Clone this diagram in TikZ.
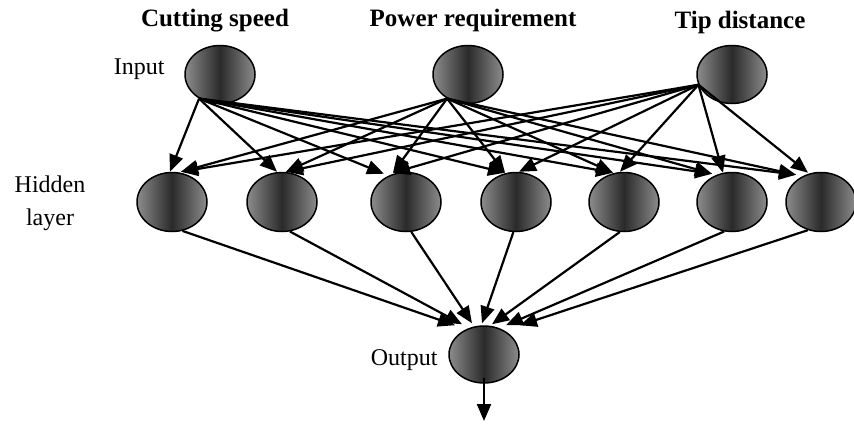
\documentclass[tikz,border=0pt]{standalone}
\usepackage{fontspec}
\setmainfont{Liberation Serif}
\usetikzlibrary{arrows.meta,calc,shapes.geometric}
\definecolor{edgegray}{HTML}{8C8C8C}
\definecolor{coregray}{HTML}{2A2A2A}
\tikzset{
  neuron/.style={ellipse, draw=black, line width=1.5pt, minimum width=70pt,
    minimum height=58pt, inner sep=0pt,
    left color=edgegray, right color=edgegray, middle color=coregray},
  conn/.style={line width=2.2pt, -{Triangle[length=17pt,width=14pt]}},
  title/.style={font=\fontsize{25}{30}\selectfont\bfseries, anchor=base},
  lbl/.style={font=\fontsize{24}{33}\selectfont, align=center},
}
\begin{document}
\begin{tikzpicture}[x=1pt,y=-1pt]
\useasboundingbox (0,0) rectangle (854,423);
% titles
\node[title] (t1) at (215,27) {Cutting speed};
\node[title] (t2) at (473,27) {Power requirement};
\node[title] (t3) at (740,28) {Tip distance};
% side labels
\node[lbl, anchor=base east] (lin) at (168,74) {Input};
\node[lbl, anchor=base] (lh1) at (50,192) {Hidden};
\node[lbl, anchor=base] (lh2) at (50,225) {layer};
\node[lbl, anchor=base east] (lout) at (441,365) {Output};
% input layer
\node[neuron] (i1) at (220,74.5) {};
\node[neuron] (i2) at (468,74.5) {};
\node[neuron] (i3) at (732,74.5) {};
% hidden layer
\foreach \n/\x in {1/172,2/282,3/406,4/516,5/624,6/732,7/821}
  \node[neuron, minimum height=59pt] (h\n) at (\x,202) {};
% output
\node[neuron, minimum height=57pt] (o) at (484,354.5) {};
\coordinate (out) at (484,421);
% input -> hidden
\draw[conn] (i1.229) -- ($(h1.north)+(-2,0)$);
\draw[conn] (i2.229) -- ($(h1.north)+(9,0)$);
\draw[conn] (i3.197) -- ($(h1.north)+(9,0)$);
\draw[conn] (i1.229) -- ($(h2.north)+(-5,0)$);
\draw[conn] (i2.229) -- ($(h2.north)+(4,0)$);
\draw[conn] (i3.197) -- ($(h2.north)+(4,0)$);
\draw[conn] (i1.229) -- ($(h3.north)+(-22,2)$);
\draw[conn] (i2.229) -- ($(h3.north)+(-13,1)$);
\draw[conn] (i3.197) -- ($(h3.north)+(-13,1)$);
\draw[conn] (i1.229) -- ($(h4.north)+(-11,1)$);
\draw[conn] (i2.229) -- ($(h4.north)+(-11,1)$);
\draw[conn] (i3.197) -- ($(h4.north)+(3,0)$);
\draw[conn] (i1.229) -- ($(h5.north)+(-11,1)$);
\draw[conn] (i2.229) -- ($(h5.north)+(-11,1)$);
\draw[conn] (i3.197) -- ($(h5.north)+(-4,0)$);
\draw[conn] (i1.229) -- ($(h6.north)+(-20,2)$);
\draw[conn] (i2.229) -- ($(h6.north)+(-20,2)$);
\draw[conn] (i3.197) -- ($(h6.north)+(-9,1)$);
\draw[conn] (i1.229) -- ($(h7.north)+(-25,3)$);
\draw[conn] (i2.229) -- ($(h7.north)+(-25,3)$);
\draw[conn] (i3.197) -- ($(h7.north)+(-13,1)$);
% hidden -> output
\draw[conn] (h1.290) -- ($(o.north)+(-29,0)$);
\draw[conn] (h2.285) -- ($(o.north)+(-22,-1)$);
\draw[conn] (h3.280) -- ($(o.north)+(-12,-2)$);
\draw[conn] (h4.265) -- ($(o.north)+(-2,-2)$);
\draw[conn] (h5.262) -- ($(o.north)+(8,-1)$);
\draw[conn] (h6.255) -- ($(o.north)+(22,0)$);
\draw[conn] (h7.245) -- ($(o.north)+(36,0)$);
% output arrow
\draw[conn] ($(o.south)+(0,-6)$) -- (out);
\end{tikzpicture}
\end{document}
